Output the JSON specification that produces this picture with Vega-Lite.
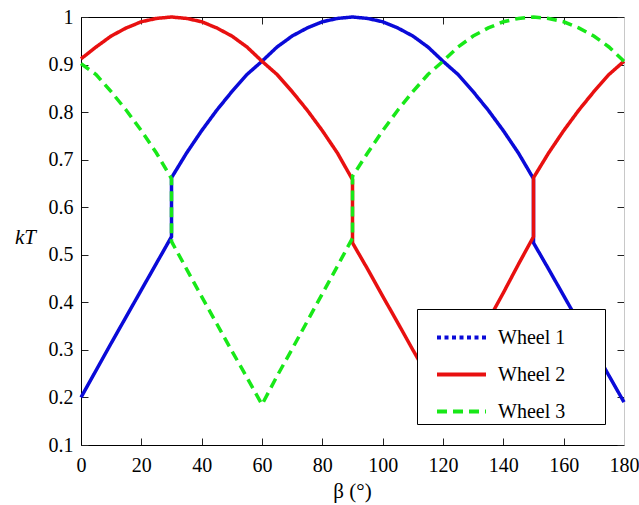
{
  "$schema": "https://vega.github.io/schema/vega-lite/v6.json",
  "width": 543,
  "height": 428,
  "autosize": "none",
  "padding": {"left": 81, "top": 17, "right": 15, "bottom": 60},
  "background": "white",
  "config": {
    "view": {"stroke": null},
    "font": "Liberation Serif, Times New Roman, serif",
    "axis": {
      "grid": false,
      "domainColor": "black",
      "domainWidth": 1,
      "tickColor": "#222222",
      "tickSize": -7,
      "tickWidth": 1,
      "labelFlush": false,
      "labelFont": "Liberation Serif, Times New Roman, serif",
      "labelFontSize": 20,
      "labelColor": "black",
      "titleFont": "Liberation Serif, Times New Roman, serif",
      "titleColor": "black",
      "titleFontWeight": "normal"
    },
    "legend": {
      "labelFont": "Liberation Serif, Times New Roman, serif",
      "labelFontSize": 20,
      "labelColor": "black"
    }
  },
  "data": {
    "values": [
      {"w": "Wheel 1", "b": 0, "k": 0.2},
      {"w": "Wheel 1", "b": 5, "k": 0.257},
      {"w": "Wheel 1", "b": 10, "k": 0.314},
      {"w": "Wheel 1", "b": 15, "k": 0.37},
      {"w": "Wheel 1", "b": 20, "k": 0.426},
      {"w": "Wheel 1", "b": 25, "k": 0.482},
      {"w": "Wheel 1", "b": 30, "k": 0.538},
      {"w": "Wheel 1", "b": 30, "k": 0.662},
      {"w": "Wheel 1", "b": 35, "k": 0.714},
      {"w": "Wheel 1", "b": 40, "k": 0.761},
      {"w": "Wheel 1", "b": 45, "k": 0.804},
      {"w": "Wheel 1", "b": 50, "k": 0.843},
      {"w": "Wheel 1", "b": 55, "k": 0.879},
      {"w": "Wheel 1", "b": 60, "k": 0.907},
      {"w": "Wheel 1", "b": 65, "k": 0.937},
      {"w": "Wheel 1", "b": 70, "k": 0.96},
      {"w": "Wheel 1", "b": 75, "k": 0.977},
      {"w": "Wheel 1", "b": 80, "k": 0.99},
      {"w": "Wheel 1", "b": 85, "k": 0.997},
      {"w": "Wheel 1", "b": 90, "k": 1.0},
      {"w": "Wheel 1", "b": 95, "k": 0.997},
      {"w": "Wheel 1", "b": 100, "k": 0.99},
      {"w": "Wheel 1", "b": 105, "k": 0.977},
      {"w": "Wheel 1", "b": 110, "k": 0.96},
      {"w": "Wheel 1", "b": 115, "k": 0.937},
      {"w": "Wheel 1", "b": 120, "k": 0.907},
      {"w": "Wheel 1", "b": 125, "k": 0.879},
      {"w": "Wheel 1", "b": 130, "k": 0.843},
      {"w": "Wheel 1", "b": 135, "k": 0.804},
      {"w": "Wheel 1", "b": 140, "k": 0.761},
      {"w": "Wheel 1", "b": 145, "k": 0.714},
      {"w": "Wheel 1", "b": 150, "k": 0.66},
      {"w": "Wheel 1", "b": 150, "k": 0.525},
      {"w": "Wheel 1", "b": 155, "k": 0.47},
      {"w": "Wheel 1", "b": 160, "k": 0.414},
      {"w": "Wheel 1", "b": 165, "k": 0.358},
      {"w": "Wheel 1", "b": 170, "k": 0.302},
      {"w": "Wheel 1", "b": 175, "k": 0.246},
      {"w": "Wheel 1", "b": 180, "k": 0.19},
      {"w": "Wheel 2", "b": 0, "k": 0.912},
      {"w": "Wheel 2", "b": 5, "k": 0.937},
      {"w": "Wheel 2", "b": 10, "k": 0.96},
      {"w": "Wheel 2", "b": 15, "k": 0.977},
      {"w": "Wheel 2", "b": 20, "k": 0.99},
      {"w": "Wheel 2", "b": 25, "k": 0.997},
      {"w": "Wheel 2", "b": 30, "k": 1.0},
      {"w": "Wheel 2", "b": 35, "k": 0.997},
      {"w": "Wheel 2", "b": 40, "k": 0.99},
      {"w": "Wheel 2", "b": 45, "k": 0.977},
      {"w": "Wheel 2", "b": 50, "k": 0.96},
      {"w": "Wheel 2", "b": 55, "k": 0.937},
      {"w": "Wheel 2", "b": 60, "k": 0.907},
      {"w": "Wheel 2", "b": 65, "k": 0.879},
      {"w": "Wheel 2", "b": 70, "k": 0.843},
      {"w": "Wheel 2", "b": 75, "k": 0.804},
      {"w": "Wheel 2", "b": 80, "k": 0.761},
      {"w": "Wheel 2", "b": 85, "k": 0.714},
      {"w": "Wheel 2", "b": 90, "k": 0.658},
      {"w": "Wheel 2", "b": 90, "k": 0.525},
      {"w": "Wheel 2", "b": 95, "k": 0.47},
      {"w": "Wheel 2", "b": 100, "k": 0.413},
      {"w": "Wheel 2", "b": 105, "k": 0.357},
      {"w": "Wheel 2", "b": 110, "k": 0.3},
      {"w": "Wheel 2", "b": 115, "k": 0.245},
      {"w": "Wheel 2", "b": 120, "k": 0.19},
      {"w": "Wheel 2", "b": 125, "k": 0.248},
      {"w": "Wheel 2", "b": 130, "k": 0.305},
      {"w": "Wheel 2", "b": 135, "k": 0.362},
      {"w": "Wheel 2", "b": 140, "k": 0.42},
      {"w": "Wheel 2", "b": 145, "k": 0.48},
      {"w": "Wheel 2", "b": 150, "k": 0.538},
      {"w": "Wheel 2", "b": 150, "k": 0.662},
      {"w": "Wheel 2", "b": 155, "k": 0.714},
      {"w": "Wheel 2", "b": 160, "k": 0.761},
      {"w": "Wheel 2", "b": 165, "k": 0.804},
      {"w": "Wheel 2", "b": 170, "k": 0.843},
      {"w": "Wheel 2", "b": 175, "k": 0.879},
      {"w": "Wheel 2", "b": 180, "k": 0.907},
      {"w": "Wheel 3", "b": 0, "k": 0.902},
      {"w": "Wheel 3", "b": 5, "k": 0.879},
      {"w": "Wheel 3", "b": 10, "k": 0.843},
      {"w": "Wheel 3", "b": 15, "k": 0.804},
      {"w": "Wheel 3", "b": 20, "k": 0.761},
      {"w": "Wheel 3", "b": 25, "k": 0.714},
      {"w": "Wheel 3", "b": 30, "k": 0.66},
      {"w": "Wheel 3", "b": 30, "k": 0.528},
      {"w": "Wheel 3", "b": 35, "k": 0.47},
      {"w": "Wheel 3", "b": 40, "k": 0.412},
      {"w": "Wheel 3", "b": 45, "k": 0.355},
      {"w": "Wheel 3", "b": 50, "k": 0.298},
      {"w": "Wheel 3", "b": 55, "k": 0.242},
      {"w": "Wheel 3", "b": 60, "k": 0.185},
      {"w": "Wheel 3", "b": 65, "k": 0.245},
      {"w": "Wheel 3", "b": 70, "k": 0.302},
      {"w": "Wheel 3", "b": 75, "k": 0.36},
      {"w": "Wheel 3", "b": 80, "k": 0.418},
      {"w": "Wheel 3", "b": 85, "k": 0.476},
      {"w": "Wheel 3", "b": 90, "k": 0.535},
      {"w": "Wheel 3", "b": 90, "k": 0.665},
      {"w": "Wheel 3", "b": 95, "k": 0.714},
      {"w": "Wheel 3", "b": 100, "k": 0.761},
      {"w": "Wheel 3", "b": 105, "k": 0.804},
      {"w": "Wheel 3", "b": 110, "k": 0.843},
      {"w": "Wheel 3", "b": 115, "k": 0.879},
      {"w": "Wheel 3", "b": 120, "k": 0.907},
      {"w": "Wheel 3", "b": 125, "k": 0.937},
      {"w": "Wheel 3", "b": 130, "k": 0.96},
      {"w": "Wheel 3", "b": 135, "k": 0.977},
      {"w": "Wheel 3", "b": 140, "k": 0.99},
      {"w": "Wheel 3", "b": 145, "k": 0.997},
      {"w": "Wheel 3", "b": 150, "k": 1.0},
      {"w": "Wheel 3", "b": 155, "k": 0.997},
      {"w": "Wheel 3", "b": 160, "k": 0.99},
      {"w": "Wheel 3", "b": 165, "k": 0.977},
      {"w": "Wheel 3", "b": 170, "k": 0.96},
      {"w": "Wheel 3", "b": 175, "k": 0.937},
      {"w": "Wheel 3", "b": 180, "k": 0.907}
    ]
  },
  "layer": [
    {
      "mark": {"type": "line", "strokeWidth": 3.5, "clip": false, "strokeCap": "butt"},
      "encoding": {
        "x": {
          "field": "b", "type": "quantitative",
          "scale": {"domain": [0, 180], "nice": false, "zero": false},
          "axis": {
            "orient": "bottom",
            "values": [0, 20, 40, 60, 80, 100, 120, 140, 160, 180],
            "labelFont": "Liberation Serif, Times New Roman, serif",
            "labelFontSize": 20,
            "labelFlush": false,
            "labelPadding": 17,
            "title": "β (°)",
            "titleFont": "Liberation Serif, Times New Roman, serif",
            "titleFontSize": 21,
            "titleBaseline": "alphabetic",
            "titleY": 52,
            "titleX": 271
          }
        },
        "y": {
          "field": "k", "type": "quantitative",
          "scale": {"domain": [0.1, 1], "nice": false, "zero": false},
          "axis": {
            "orient": "left",
            "values": [0.1, 0.2, 0.3, 0.4, 0.5, 0.6, 0.7, 0.8, 0.9, 1],
            "format": ".1~f",
            "labelFont": "Liberation Serif, Times New Roman, serif",
            "labelFontSize": 20,
            "labelFlush": false,
            "labelPadding": 15,
            "title": "kT",
            "titleFont": "Liberation Serif, Times New Roman, serif",
            "titleFontSize": 21,
            "titleFontStyle": "italic",
            "titleAngle": 0,
            "titleAlign": "center",
            "titleBaseline": "alphabetic",
            "titleX": -56,
            "titleY": 226
          }
        },
        "color": {
          "field": "w", "type": "nominal",
          "scale": {"domain": ["Wheel 1", "Wheel 2", "Wheel 3"], "range": ["#0a0ad8", "#e81010", "#18e818"]},
          "legend": {
            "title": "MMMMM",
            "titleOrient": "right",
            "titleColor": "rgba(0,0,0,0)",
            "titleFontSize": 8,
            "titlePadding": 0,
            "orient": "none",
            "legendX": 336,
            "legendY": 292,
            "symbolType": "stroke",
            "symbolSize": 2400,
            "symbolStrokeWidth": 4,
            "symbolOffset": 16,
            "labelOffset": 10,
            "padding": 2,
            "rowPadding": -12,
            "strokeColor": "black",
            "fillColor": "white",
            "labelFont": "Liberation Serif, Times New Roman, serif",
            "labelFontSize": 20
          }
        },
        "strokeDash": {
          "condition": {"test": "datum.w === 'Wheel 1'", "value": [1, 0]},
          "field": "w", "type": "nominal",
          "scale": {"domain": ["Wheel 1", "Wheel 2", "Wheel 3"], "range": [[4, 3.5], [1, 0], [10, 6]]},
          "legend": {
            "title": "MMMMM",
            "titleOrient": "right",
            "titleColor": "rgba(0,0,0,0)",
            "titleFontSize": 8,
            "titlePadding": 0,
            "orient": "none",
            "legendX": 336,
            "legendY": 292,
            "symbolType": "stroke",
            "symbolSize": 2400,
            "symbolStrokeWidth": 4,
            "symbolOffset": 16,
            "labelOffset": 10,
            "padding": 2,
            "rowPadding": -12,
            "strokeColor": "black",
            "fillColor": "white",
            "labelFont": "Liberation Serif, Times New Roman, serif",
            "labelFontSize": 20
          }
        },
        "order": {"value": null}
      }
    },
    {
      "mark": {"type": "line", "opacity": 0},
      "encoding": {
        "x": {
          "field": "b", "type": "quantitative",
          "axis": {
            "orient": "top",
            "values": [0, 20, 40, 60, 80, 100, 120, 140, 160, 180],
            "labels": false,
            "title": null
          }
        },
        "y": {
          "field": "k", "type": "quantitative",
          "axis": {
            "orient": "right",
            "values": [0.1, 0.2, 0.3, 0.4, 0.5, 0.6, 0.7, 0.8, 0.9, 1],
            "labels": false,
            "title": null,
            "domainColor": "#c8c8c8"
          }
        },
        "detail": {"field": "w"}
      }
    }
  ],
  "resolve": {"axis": {"x": "independent", "y": "independent"}}
}
